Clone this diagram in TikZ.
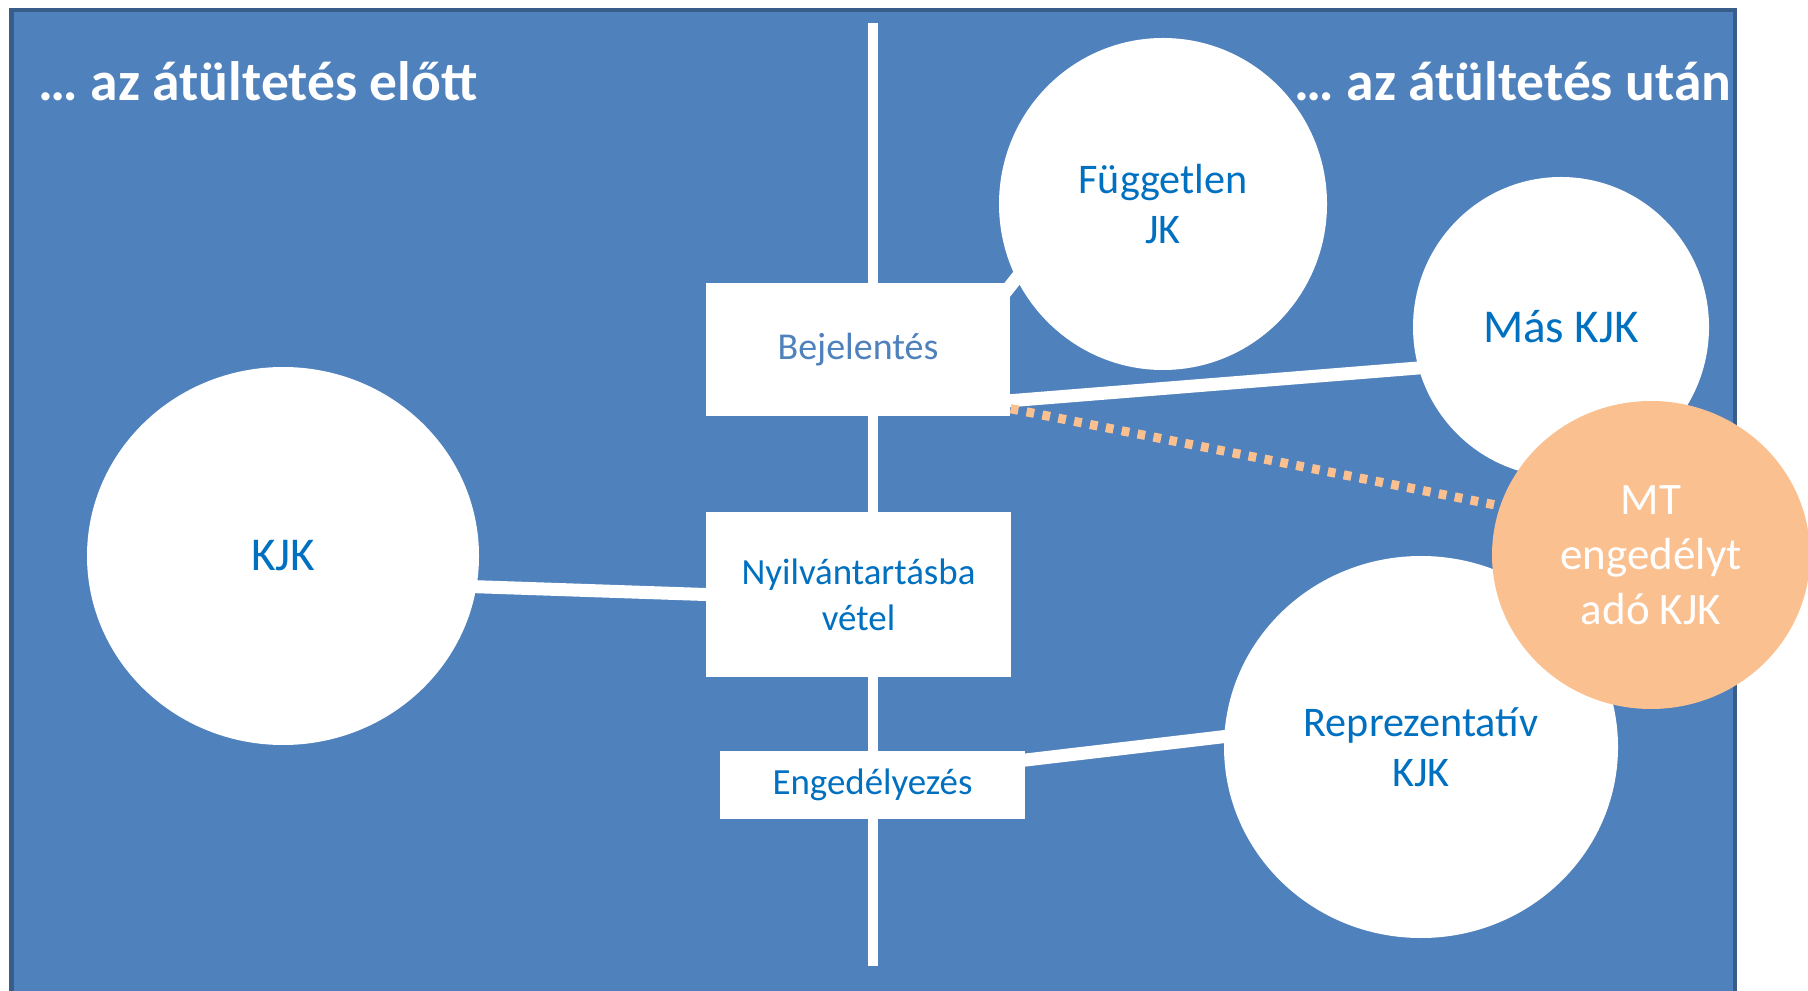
\documentclass[tikz,border=0pt]{standalone}
\usepackage{fontspec}
\setmainfont{Carlito}
\usetikzlibrary{shapes.geometric}
\definecolor{bgblue}{HTML}{4F81BD}
\definecolor{edgeblue}{HTML}{385D8A}
\definecolor{txtblue}{HTML}{0070C0}
\definecolor{peach}{HTML}{FAC090}

\begin{document}
\begin{tikzpicture}[
  stepbox/.style={fill=white, inner sep=0pt, align=center, text=txtblue, font=\fontsize{10.5}{13.1}\selectfont},
  blob/.style={ellipse, fill=white, inner sep=0pt, align=center, text=txtblue},
  link/.style={white, line width=3.7pt, shorten <=-3pt, shorten >=-3pt},
  title/.style={text=white, inner sep=0pt, font=\bfseries\fontsize{15.8}{18}\selectfont}
]
\clip (0,0) rectangle (18.08,9.90);
\draw [edgeblue, fill=bgblue, line width=1.4pt] (0.115,-0.5) rectangle (17.35,9.80);
\coordinate (ltop) at (8.73,9.67);
\coordinate (lbot) at (8.73,0.24);
\draw [white, line width=3.1pt] (ltop) -- (lbot);
\node [stepbox, text=bgblue, font=\fontsize{10.8}{13}\selectfont, minimum width=3.04cm, minimum height=1.33cm] (bej) at (8.58,6.405) {Bejelentés};
\node [stepbox, minimum width=3.05cm, minimum height=1.65cm] (nyilv) at (8.585,3.955) {Nyilvántartásba\\vétel};
\node [stepbox, minimum width=3.05cm, minimum height=0.68cm] (eng) at (8.725,2.05) {Engedélyezés};
\node [blob, minimum width=3.92cm, minimum height=3.78cm, font=\fontsize{13.4}{16}\selectfont] (kjk) at (2.83,4.34) {KJK};
\node [blob, minimum width=3.28cm, minimum height=3.32cm, font=\fontsize{12}{14.5}\selectfont] (fug) at (11.63,7.86) {Független\\JK};
\node [blob, minimum width=2.96cm, minimum height=3.00cm, font=\fontsize{13.4}{16}\selectfont] (mas) at (15.61,6.63) {Más KJK};
\node [blob, minimum width=3.94cm, minimum height=3.82cm, font=\fontsize{12}{14.2}\selectfont] (rep) at (14.21,2.43) {Reprezentatív\\KJK};
\node [blob, fill=peach, text=white, minimum width=3.18cm, minimum height=3.08cm, font=\fontsize{12.8}{15.7}\selectfont] (mt) at (16.51,4.35) {MT\\engedélyt\\adó KJK};
\node [title, anchor=base west] (before) at (0.38,8.89) {… az átültetés előtt};
\node [title, anchor=base east] (after) at (17.32,8.89) {… az átültetés után};
\draw [link] (kjk.-9) -- (nyilv.west);
\draw [link] ([yshift=0.16cm]bej.south east) -- (mas.196);
\draw [link] ([xshift=-0.19cm,yshift=-0.27cm]bej.north east) -- (fug.207);
\draw [link] ([yshift=0.25cm]eng.east) -- (rep.177);
\draw [peach, line width=2.6pt, dash pattern=on 2.2pt off 2.4pt] ([yshift=0.08cm]bej.south east) -- (mt.162);
\end{tikzpicture}
\end{document}
